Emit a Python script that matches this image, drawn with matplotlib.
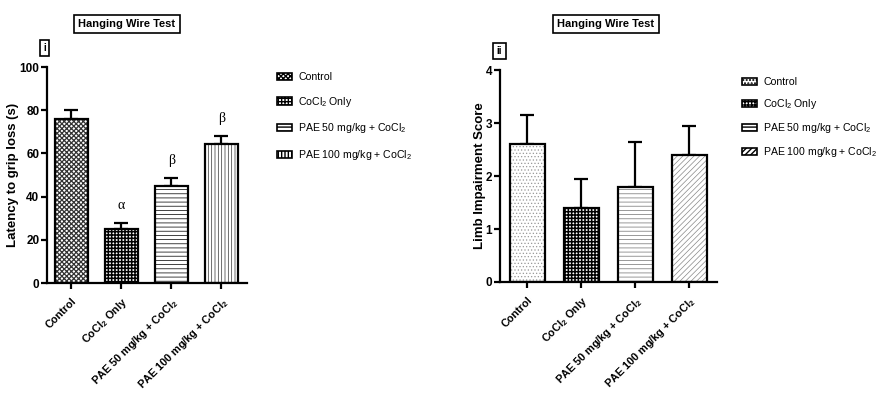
import numpy as np
import matplotlib
matplotlib.use("Agg")
import matplotlib.pyplot as plt
from matplotlib.patches import Patch

plt.rcParams['font.family'] = ['Liberation Sans', 'DejaVu Sans']

# data
groups = ['Control', 'CoCl$_\\mathregular{2}$ Only',
          'PAE 50 mg/kg + CoCl$_\\mathregular{2}$', 'PAE 100 mg/kg + CoCl$_\\mathregular{2}$']
latency = [76, 25, 45, 64.5]
latency_err = [4, 3, 3.5, 3.5]
latency_marks = ['', 'α', 'β', 'β']
limb_score = [2.6, 1.4, 1.8, 2.4]
limb_err = [0.55, 0.55, 0.85, 0.55]

left_hatches = ['xxxxxxx', '+++++', '----', '|||||']
left_hcolors = ['#333333', 'black', '#222222', '#333333']
left_hlw = [0.9, 1.1, 0.6, 0.5]
right_hatches = ['.....', '+++++', '----', '//////']
right_hcolors = ['#999999', 'black', '#888888', '#888888']
right_hlw = [0.5, 1.1, 0.6, 0.5]


def draw_panel(ax, values, errs, hatches, hcolors, hlws, ymax, yticks, ylabel, xlim, width):
    x = np.arange(len(values))
    for i in range(len(values)):
        with plt.rc_context({'hatch.linewidth': hlws[i]}):
            ax.bar(x[i], values[i], width=width, color='white', edgecolor=hcolors[i],
                   hatch=hatches[i], linewidth=0, zorder=2)
    ax.bar(x, values, width=width, fill=False, edgecolor='black', linewidth=1.6, zorder=3)
    ax.errorbar(x, values, yerr=[np.zeros(len(values)), errs], fmt='none',
                ecolor='black', elinewidth=1.6, capsize=5, capthick=1.6, zorder=1)
    ax.set_xlim(*xlim)
    ax.set_ylim(0, ymax)
    ax.set_yticks(yticks)
    ax.set_xticks(x)
    ax.set_xticklabels(groups, rotation=45, ha='right', rotation_mode='anchor',
                       fontsize=7.8, fontweight='bold')
    for lab in ax.get_yticklabels():
        lab.set_fontweight('bold')
        lab.set_fontsize(8.5)
    ax.tick_params(axis='both', width=1.6, length=4, pad=1.5)
    ax.tick_params(axis='x', pad=5)
    ax.spines['top'].set_visible(False)
    ax.spines['right'].set_visible(False)
    ax.spines['left'].set_linewidth(1.6)
    ax.spines['bottom'].set_linewidth(1.6)
    ax.set_ylabel(ylabel, fontsize=9.5, fontweight='bold', labelpad=0)


def add_legend(fig, hatches, anchor, spacing):
    handles = [Patch(facecolor='white', edgecolor='black', hatch=h, linewidth=1.2)
               for h in hatches]
    fig.legend(handles, groups, loc='upper left', bbox_to_anchor=anchor, frameon=False,
               handlelength=1.4, handleheight=0.7, handletextpad=0.6,
               labelspacing=spacing, borderpad=0, borderaxespad=0,
               prop={'size': 7.6})


def add_boxes(fig, title_xy, tag, tag_xy):
    fig.text(title_xy[0], title_xy[1], 'Hanging Wire Test', ha='center', va='center',
             fontsize=8, fontweight='bold',
             bbox=dict(boxstyle='square,pad=0.4', facecolor='white', edgecolor='black', linewidth=1.2))
    fig.text(tag_xy[0], tag_xy[1], tag, ha='center', va='center',
             fontsize=7, fontweight='bold',
             bbox=dict(boxstyle='square,pad=0.35', facecolor='white', edgecolor='black', linewidth=1.2))


fig = plt.figure(figsize=(8.81, 3.94), dpi=100)
W, H = 881.0, 394.0

ax1 = fig.add_axes([47 / W, 1 - 283 / H, 200 / W, 216 / H])
draw_panel(ax1, latency, latency_err, left_hatches, left_hcolors, left_hlw,
           100, [0, 20, 40, 60, 80, 100], 'Latency to grip loss (s)', (-0.48, 3.51), 0.66)
for i, m in enumerate(latency_marks):
    if m:
        ax1.text(i, latency[i] + latency_err[i] + 5, m, ha='center', va='bottom',
                 fontsize=10, family=['Liberation Serif', 'DejaVu Serif'])

ax2 = fig.add_axes([500 / W, 1 - 282 / H, 217 / W, 212 / H])
draw_panel(ax2, limb_score, limb_err, right_hatches, right_hcolors, right_hlw,
           4, [0, 1, 2, 3, 4], 'Limb Impairment Score', (-0.51, 3.52), 0.65)

add_legend(fig, left_hatches, (277 / W, 1 - 72 / H), 1.2)
add_legend(fig, right_hatches, (742 / W, 1 - 77 / H), 0.95)

add_boxes(fig, (127 / W, 1 - 24 / H), 'i', (44.5 / W, 1 - 48 / H))
add_boxes(fig, (606 / W, 1 - 24 / H), 'ii', (499.5 / W, 1 - 51 / H))

fig.savefig('out.png', dpi=100, facecolor='white')
